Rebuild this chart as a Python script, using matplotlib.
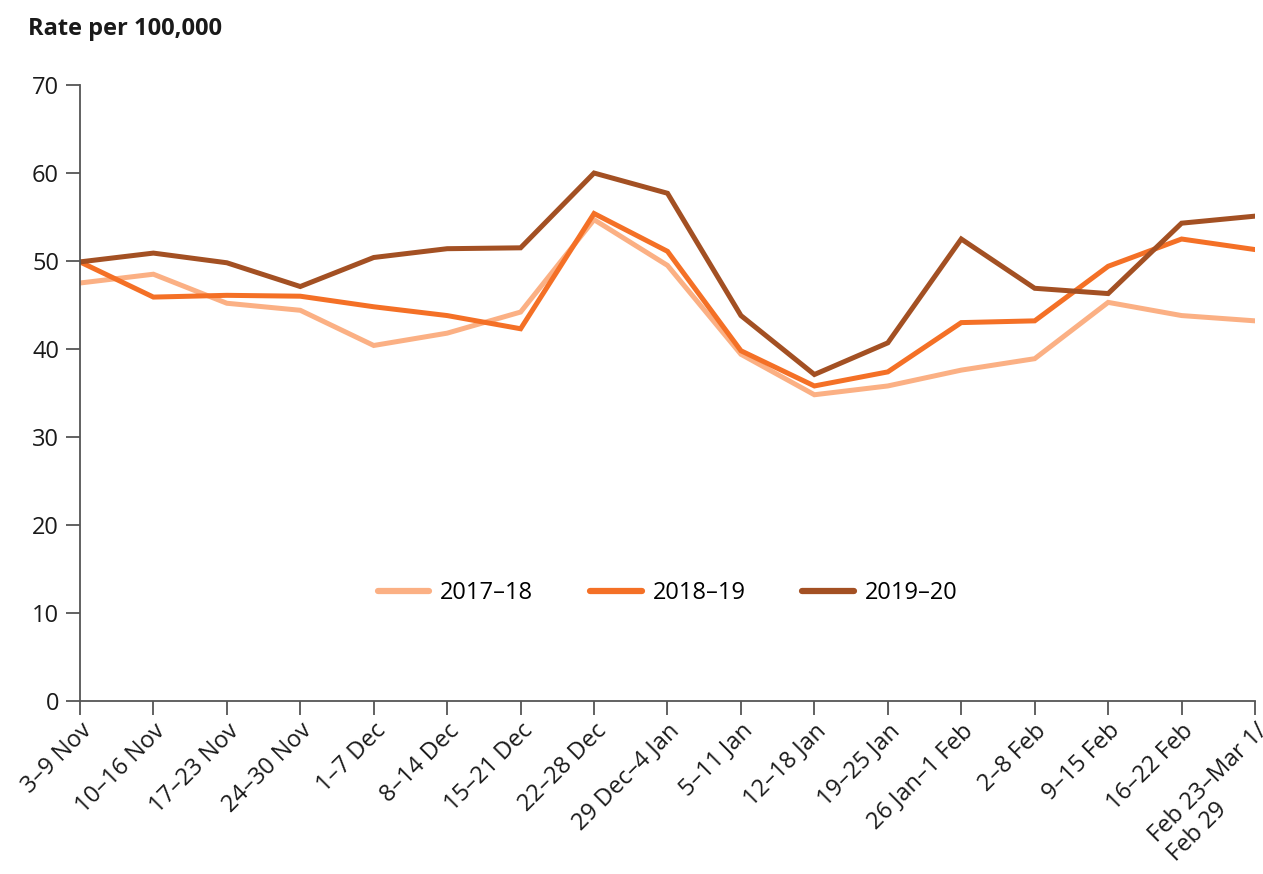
import numpy as np
import matplotlib
matplotlib.use('Agg')
import matplotlib.pyplot as plt

#############################################################
''' Data (read off the reference) '''

weeks = ['3–9 Nov', '10–16 Nov', '17–23 Nov', '24–30 Nov', '1–7 Dec', '8–14 Dec',
         '15–21 Dec', '22–28 Dec', '29 Dec–4 Jan', '5–11 Jan', '12–18 Jan',
         '19–25 Jan', '26 Jan–1 Feb', '2–8 Feb', '9–15 Feb', '16–22 Feb',
         'Feb 23–Mar 1/\nFeb 29']

rate_2017_18 = [47.5, 48.5, 45.2, 44.4, 40.4, 41.8, 44.2, 54.7, 49.5, 39.4, 34.8,
                35.8, 37.6, 38.9, 45.3, 43.8, 43.2]
rate_2018_19 = [49.9, 45.9, 46.1, 46.0, 44.8, 43.8, 42.3, 55.4, 51.1, 39.8, 35.8,
                37.4, 43.0, 43.2, 49.4, 52.5, 51.3]
rate_2019_20 = [49.9, 50.9, 49.8, 47.1, 50.4, 51.4, 51.5, 60.0, 57.7, 43.8, 37.1,
                40.7, 52.5, 46.9, 46.3, 54.3, 55.1]

series_names = ['2017–18', '2018–19', '2019–20']
colours = ['#fbb084', '#f47026', '#a35023']

#############################################################
''' Plot '''

plt.rcParams['font.family'] = ['Open Sans', 'DejaVu Sans']

fig = plt.figure(figsize=(12.63, 8.74), dpi=100)
ax = fig.add_axes([0.0633, 0.198, 0.9304, 0.7047])

x = np.arange(len(weeks))
for vals, name, col in zip([rate_2017_18, rate_2018_19, rate_2019_20], series_names, colours):
	ax.plot(x, vals, color=col, linewidth=3.6, label=name, solid_joinstyle='miter')

ax.set_xlim(0, len(weeks) - 1)
ax.set_ylim(0, 70)
ax.set_yticks(np.arange(0, 71, 10))
ax.set_xticks(x)
ax.set_xticklabels(weeks, rotation=45, ha='right', va='top', rotation_mode='anchor',
	multialignment='left')

for side in ['top', 'right']:
	ax.spines[side].set_visible(False)
for side in ['left', 'bottom']:
	ax.spines[side].set_color('#555555')
	ax.spines[side].set_linewidth(1.3)

ax.tick_params(axis='both', direction='out', length=10, width=1.3, color='#555555',
	labelsize=17, labelcolor='#1a1a1a')
ax.tick_params(axis='y', pad=5)
ax.tick_params(axis='x', pad=3)

fig.text(0.022, 0.967, 'Rate per 100,000', fontsize=17, fontweight='bold',
	ha='left', va='center', color='#1a1a1a')

leg = ax.legend(loc='center', bbox_to_anchor=(0.5, 0.175), ncol=3, frameon=False,
	fontsize=17, handlelength=2.2, columnspacing=2.4, handletextpad=0.45)
for line in leg.get_lines():
	line.set_linewidth(4.5)
	line.set_solid_capstyle('round')

plt.savefig('out.png', dpi=100)
